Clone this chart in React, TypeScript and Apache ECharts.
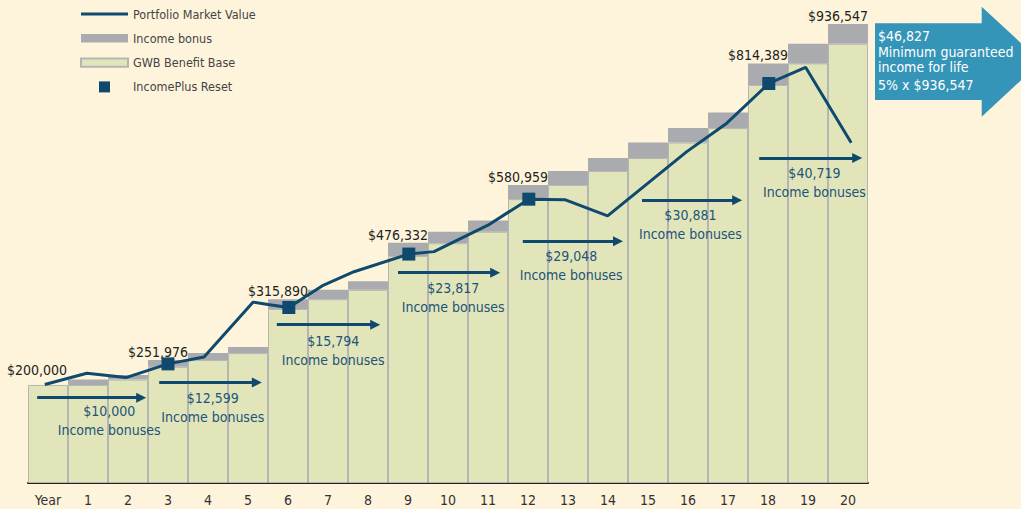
import React, { useEffect, useRef } from "react";
import * as echarts from "echarts";

// ---- data ----
const years = ["Year", "1", "2", "3", "4", "5", "6", "7", "8", "9", "10", "11", "12", "13", "14", "15", "16", "17", "18", "19", "20"];
const benefitBase = [200000, 200000, 211000, 237000, 251000, 265000, 355000, 375000, 394000, 463000, 489000, 512500, 579000, 608000, 636500, 663000, 694500, 724000, 812000, 856000, 896000];
const incomeBonus = [0, 11000, 9500, 14000, 14000, 12500, 20000, 19000, 17500, 27000, 23500, 23000, 29000, 28500, 26500, 31500, 29500, 32000, 44000, 40000, 40500];
const valueLabels = ["$200,000", "", "", "$251,976", "", "", "$315,890", "", "", "$476,332", "", "", "$580,959", "", "", "", "", "", "$814,389", "", "$936,547"];

const marketYears = [-0.08, 0.97, 1.95, 3.0, 3.9, 5.13, 5.5, 6.02, 6.85, 7.65, 9.02, 9.65, 11.0, 12.02, 12.92, 13.99, 15.97, 16.97, 18.02, 18.94, 20.08];
const marketValues = [201000, 224000, 215000, 243000, 257000, 369000, 364000, 358000, 402000, 431000, 467000, 472000, 526000, 579000, 578000, 545000, 676000, 734000, 815000, 848000, 694000];

const resetYears = [3.0, 6.02, 9.02, 12.02, 18.02];
const resetValues = [243000, 358000, 467000, 579000, 815000];

const arrowStartYears = [-0.27, 2.78, 5.72, 8.75, 11.87, 14.85, 17.78];
const arrowEndYears = [2.33, 5.22, 8.18, 11.18, 14.25, 17.23, 20.23];
const arrowValues = [174000, 205000, 323000, 429000, 493000, 577000, 663000];
const bonusAmounts = ["$10,000", "$12,599", "$15,794", "$23,817", "$29,048", "$30,881", "$40,719"];
const bonusLabelYears = [1.53, 4.12, 7.13, 10.13, 13.08, 16.06, 19.16];
const bonusLabelValues = [126500, 155000, 271000, 379000, 443000, 527000, 614000];
const bonusCaption = "Income bonuses";

const calloutLines = ["$46,827", "Minimum guaranteed", "income for life", "5% x $936,547"];

const FONT = "'Liberation Sans Narrow', 'DejaVu Sans Condensed', 'Noto Sans', sans-serif";
const NAVY = "#0f4a6e";

export default function App() {
  const ref = useRef<HTMLDivElement>(null);

  useEffect(() => {
    if (!ref.current) return;
    const chart = echarts.init(ref.current, undefined, { renderer: "svg" });

    const calloutY = [37, 53, 68, 86];
    const option: any = {
      animation: false,
      backgroundColor: "#fef4dc",
      textStyle: { fontFamily: FONT },
      grid: { left: 28, right: 153, top: 12.4, bottom: 26, containLabel: false },
      legend: {
        orient: "vertical",
        left: 75,
        top: 2,
        itemWidth: 47,
        itemHeight: 11,
        itemGap: 10.3,
        selectedMode: false,
        textStyle: { fontFamily: FONT, fontSize: 12.5, color: "#444", lineHeight: 14 },
        data: [
          { name: "Portfolio Market Value", icon: "path://M0 0H48V3H0Z" },
          { name: "Income bonus", icon: "path://M0 0H45V8H0Z" },
          { name: "GWB Benefit Base", icon: "path://M0 0H45V8H0Z" },
          { name: "IncomePlus Reset", icon: "path://M0 0H11V11H0Z" },
        ],
      },
      xAxis: [
        {
          type: "category",
          data: years,
          boundaryGap: true,
          axisLine: { show: true, lineStyle: { color: "#222", width: 2 } },
          axisTick: { show: false },
          axisLabel: { color: "#333", fontSize: 14, margin: 10, fontFamily: FONT, interval: 0 },
          splitLine: { show: false },
        },
        {
          type: "value",
          min: -0.5,
          max: 20.5,
          show: false,
          splitLine: { show: false },
        },
      ],
      yAxis: {
        type: "value",
        min: 0,
        max: 960000,
        show: false,
        splitLine: { show: false },
      },
      series: [
        {
          name: "GWB Benefit Base",
          type: "bar",
          stack: "gwb",
          xAxisIndex: 0,
          barCategoryGap: "0%",
          barGap: "0%",
          data: benefitBase,
          itemStyle: { color: "#e2e5b9", borderColor: "#b4b6b2", borderWidth: 1 },
          emphasis: { disabled: true },
        },
        {
          name: "Income bonus",
          type: "bar",
          stack: "gwb",
          xAxisIndex: 0,
          barCategoryGap: "0%",
          data: incomeBonus.map((v, i) => ({
            value: v,
            label: {
              show: valueLabels[i] !== "",
              position: "top",
              distance: 3,
              offset: i === 0 ? [-11, -5] : [-10, 2],
              formatter: valueLabels[i],
              color: "#231f20",
              fontSize: 14,
              fontFamily: FONT,
            },
          })),
          itemStyle: { color: "#a9abaf", borderColor: "#a9abaf", borderWidth: 0 },
          emphasis: { disabled: true },
        },
        {
          name: "Portfolio Market Value",
          type: "line",
          xAxisIndex: 1,
          data: marketYears.map((x, i) => [x, marketValues[i]]),
          showSymbol: false,
          symbol: "none",
          lineStyle: { color: NAVY, width: 3 },
          itemStyle: { color: NAVY },
          z: 5,
          markLine: {
            silent: true,
            symbol: ["none", "triangle"],
            symbolSize: 10,
            label: { show: false },
            lineStyle: { color: NAVY, width: 3, type: "solid" },
            itemStyle: { color: NAVY },
            emphasis: { disabled: true },
            data: arrowStartYears.map((x, i) => [
              { coord: [x, arrowValues[i]] },
              { coord: [arrowEndYears[i], arrowValues[i]] },
            ]),
          },
        },
        {
          name: "IncomePlus Reset",
          type: "scatter",
          xAxisIndex: 1,
          symbol: "rect",
          symbolSize: 13,
          data: resetYears.map((x, i) => [x, resetValues[i]]),
          itemStyle: { color: NAVY, opacity: 1 },
          z: 6,
        },
        {
          name: "bonus notes",
          type: "scatter",
          xAxisIndex: 1,
          symbolSize: 0,
          silent: true,
          itemStyle: { opacity: 1, color: "transparent" },
          data: bonusLabelYears.map((x, i) => ({
            value: [x, bonusLabelValues[i]],
            label: {
              show: true,
              position: "inside",
              formatter: bonusAmounts[i] + "\n" + bonusCaption,
              color: "#1d5479",
              fontSize: 14,
              lineHeight: 19,
              align: "center",
              fontFamily: FONT,
            },
          })),
          z: 4,
        },
      ],
      graphic: [
        {
          type: "polygon",
          shape: {
            points: [
              [875, 23.3],
              [981.7, 23.3],
              [981.7, 6.7],
              [1041, 61.7],
              [981.7, 116.7],
              [981.7, 100],
              [875, 100],
            ],
          },
          style: { fill: "#3595b8" },
          z: 10,
        },
        ...calloutLines.map((t, i) => ({
          type: "text",
          left: 878,
          top: calloutY[i] - 8,
          z: 11,
          style: {
            text: t,
            fill: "#ffffff",
            fontSize: 14,
            fontWeight: "normal",
            fontFamily: FONT,
          },
        })),
      ],
    };

    chart.setOption(option);
    return () => chart.dispose();
  }, []);

  return (
    <div
      ref={ref}
      style={{ position: "fixed", left: 0, top: 0, width: 1021, height: 509 }}
    />
  );
}
